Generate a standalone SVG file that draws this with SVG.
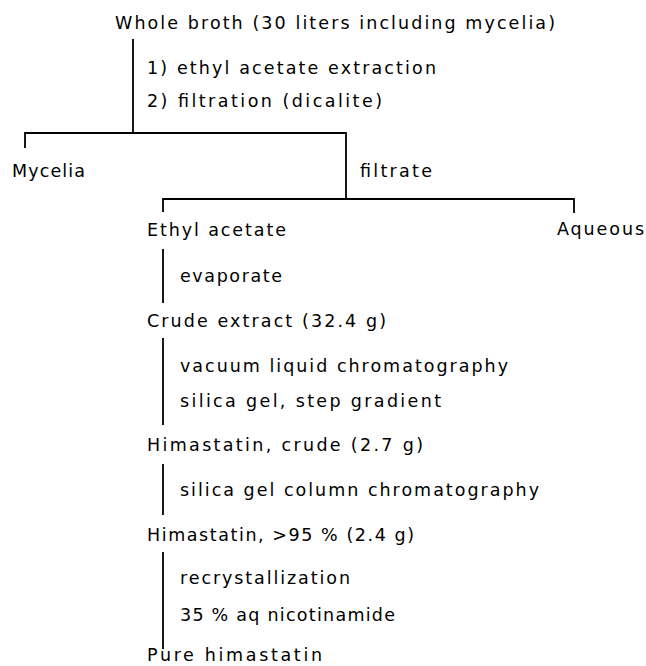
<svg xmlns="http://www.w3.org/2000/svg" width="646" height="666" viewBox="0 0 646 666">
<style>
text{font-family:"DejaVu Sans","Liberation Sans",sans-serif;font-size:17.5px;fill:#000}
.ln{stroke:#000;stroke-width:1.8;fill:none}
</style>
<rect width="646" height="666" fill="#fff"/>
<g id="connectors">
<path class="ln" d="M133,39V133M25,148V133H346V199M163,212V199H574V213"/>
<path class="ln" d="M163,249V303M163,338V425M163,464V515M163,552V649"/>
</g>
<g id="whole-broth"><text x="115" y="29" textLength="440" lengthAdjust="spacing">Whole broth (30 liters including mycelia)</text></g>
<g id="step1"><text x="147" y="74" textLength="289" lengthAdjust="spacing">1) ethyl acetate extraction</text>
<text x="147" y="107" textLength="235" lengthAdjust="spacing">2) filtration (dicalite)</text></g>
<g id="mycelia"><text x="12" y="177" textLength="73" lengthAdjust="spacing">Mycelia</text></g>
<g id="filtrate"><text x="360" y="177" textLength="72" lengthAdjust="spacing">filtrate</text></g>
<g id="ethyl-acetate"><text x="147" y="236" textLength="139" lengthAdjust="spacing">Ethyl acetate</text></g>
<g id="aqueous"><text x="557" y="235" textLength="87" lengthAdjust="spacing">Aqueous</text></g>
<g id="step-evaporate"><text x="180" y="282" textLength="102" lengthAdjust="spacing">evaporate</text></g>
<g id="crude-extract"><text x="147" y="327" textLength="239" lengthAdjust="spacing">Crude extract (32.4 g)</text></g>
<g id="step-vlc"><text x="180" y="372" textLength="328" lengthAdjust="spacing">vacuum liquid chromatography</text>
<text x="180" y="407" textLength="261" lengthAdjust="spacing">silica gel, step gradient</text></g>
<g id="himastatin-crude"><text x="147" y="451" textLength="276" lengthAdjust="spacing">Himastatin, crude (2.7 g)</text></g>
<g id="step-column"><text x="180" y="496" textLength="359" lengthAdjust="spacing">silica gel column chromatography</text></g>
<g id="himastatin-95"><text x="147" y="541" textLength="267" lengthAdjust="spacing">Himastatin, &gt;95 % (2.4 g)</text></g>
<g id="step-recryst"><text x="180" y="584" textLength="170" lengthAdjust="spacing">recrystallization</text>
<text x="180" y="621" textLength="215" lengthAdjust="spacing">35 % aq nicotinamide</text></g>
<g id="pure-himastatin"><text x="147" y="661" textLength="175" lengthAdjust="spacing">Pure himastatin</text></g>
</svg>
